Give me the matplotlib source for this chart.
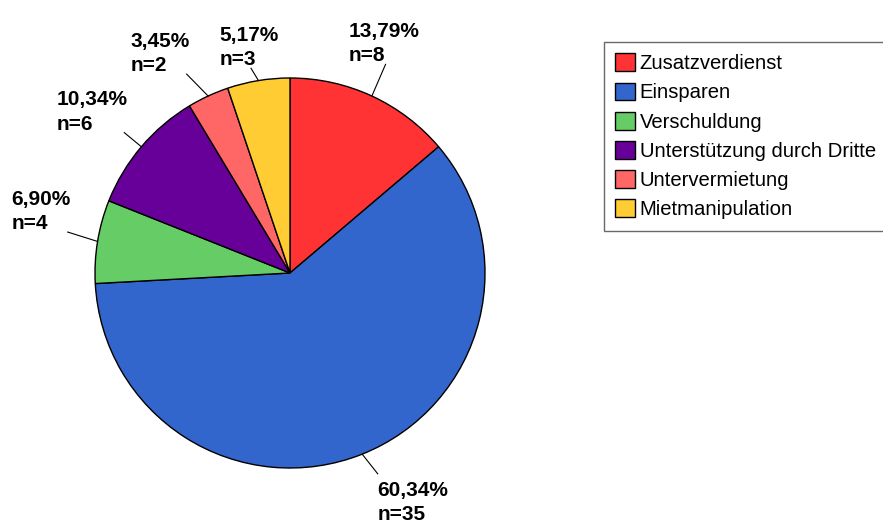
import numpy as np
import matplotlib
matplotlib.use('Agg')
import matplotlib.pyplot as plt

plt.rcParams['font.family'] = ['Liberation Sans', 'DejaVu Sans']

# Daten
categories = ['Zusatzverdienst', 'Einsparen', 'Verschuldung',
              'Unterstützung durch Dritte', 'Untervermietung', 'Mietmanipulation']
counts = [8, 35, 4, 6, 2, 3]
colors = ['#FF3333', '#3366CC', '#66CC66', '#660099', '#FF6666', '#FFCC33']

# Endpunkte der Hilfslinien (in Einheiten des Kreisradius) und Ausrichtung
label_pos = [(0.49, 1.07), (0.45, -1.03), (-1.14, 0.21),
             (-0.85, 0.72), (-0.53, 1.02), (-0.20, 1.05)]
label_ha = ['center', 'left', 'right', 'right', 'right', 'center']
label_va = ['bottom', 'top', 'bottom', 'bottom', 'bottom', 'bottom']

total = sum(counts)
labels = [f"{c / total * 100:.2f}".replace('.', ',') + f"%\nn={c}" for c in counts]

fig = plt.figure(figsize=(8.83, 5.25), dpi=100)
ax = fig.add_axes([0, 0, 1, 1])

wedges, _ = ax.pie(counts, colors=colors, startangle=90, counterclock=False,
                   radius=1.0, center=(0, 0), frame=False,
                   wedgeprops=dict(edgecolor='black', linewidth=1.0))

# Hilfslinien und Beschriftungen
for w, lab, (lx, ly), ha, va in zip(wedges, labels, label_pos, label_ha, label_va):
    ang = np.deg2rad((w.theta1 + w.theta2) / 2)
    x0, y0 = np.cos(ang), np.sin(ang)
    ax.plot([x0, lx], [y0, ly], color='black', linewidth=0.8)
    dx = {'left': 0.0, 'right': 0.015, 'center': -0.01}[ha]
    dy = {'bottom': -0.005, 'top': -0.035}[va]
    ax.text(lx + dx, ly + dy, lab, ha=ha, va=va, fontsize=15,
            fontweight='bold', linespacing=1.35, multialignment='left')

# Pixelgenaue Achsen: Radius 1 = 195 px, Mittelpunkt bei (290, 273)
ax.set_xlim(-290 / 195, (883 - 290) / 195)
ax.set_ylim(-(525 - 273) / 195, 273 / 195)
ax.set_aspect('equal')
ax.axis('off')

leg = ax.legend(wedges, categories, loc='upper left',
                bbox_to_anchor=(604 / 883, 1 - 42 / 525), bbox_transform=fig.transFigure,
                borderaxespad=0, fontsize=14.6, frameon=True, fancybox=False,
                handlelength=0.98, handleheight=0.98, handletextpad=0.22,
                labelspacing=0.46, borderpad=0.56)
leg.get_frame().set_edgecolor('#444444')
leg.get_frame().set_linewidth(1.0)

fig.savefig('out.png', dpi=100)
